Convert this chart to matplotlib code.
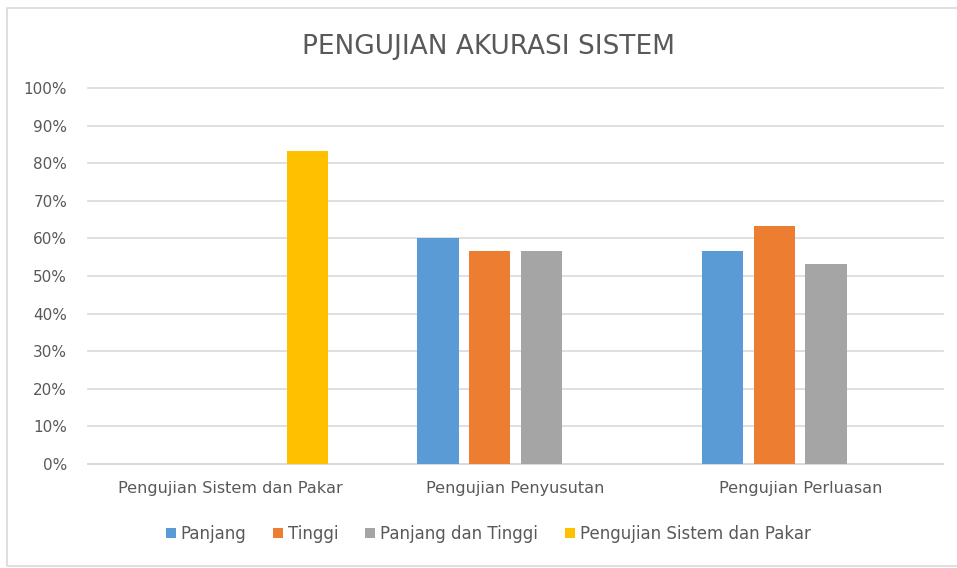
import numpy as np
import matplotlib
matplotlib.use("Agg")
import matplotlib.pyplot as plt
from matplotlib.patches import Rectangle
from matplotlib.ticker import PercentFormatter

plt.rcParams['font.family'] = ['Liberation Sans Narrow', 'DejaVu Sans']

# data
categories = ['Pengujian Sistem dan Pakar', 'Pengujian Penyusutan', 'Pengujian Perluasan']
series_names = ['Panjang', 'Tinggi', 'Panjang dan Tinggi', 'Pengujian Sistem dan Pakar']
panjang = [np.nan, 60.0, 56.7]
tinggi = [np.nan, 56.7, 63.3]
panjang_tinggi = [np.nan, 56.7, 53.3]
sistem_pakar = [83.3, np.nan, np.nan]
colors = ['#5B9BD5', '#ED7D31', '#A5A5A5', '#FFC000']

text_color = '#595959'
grid_color = '#D9D9D9'

fig = plt.figure(figsize=(9.57, 5.68), dpi=100)
ax = fig.add_axes([0.092, 0.183, 0.893, 0.662])

x = np.arange(len(categories))
step = 0.181
width = 0.144
all_series = [panjang, tinggi, panjang_tinggi, sistem_pakar]
for i, (vals, name, c) in enumerate(zip(all_series, series_names, colors)):
    ax.bar(x + (i - 1.5) * step, vals, width, color=c, label=name, zorder=3)

ax.set_xlim(-0.5, len(categories) - 0.5)
ax.set_ylim(0, 100)
ax.set_yticks(np.arange(0, 101, 10))
ax.yaxis.set_major_formatter(PercentFormatter(decimals=0))
ax.grid(axis='y', color=grid_color, linewidth=1.2, zorder=0)
for gl in ax.get_ygridlines():
    gl.set_clip_on(False)
for s in ['top', 'right', 'left']:
    ax.spines[s].set_visible(False)
ax.spines['bottom'].set_color(grid_color)
ax.spines['bottom'].set_linewidth(1.2)
ax.tick_params(axis='both', length=0, colors=text_color, labelsize=11)
ax.tick_params(axis='y', pad=15)
ax.tick_params(axis='x', pad=12, labelsize=11.6)
ax.set_xticks(x)
ax.set_xticklabels(categories)

fig.text(0.51, 0.917, 'PENGUJIAN AKURASI SISTEM', ha='center', va='center',
         fontsize=19, color=text_color)

leg = fig.legend(loc='center', bbox_to_anchor=(0.51, 0.06), ncol=4, frameon=False,
                 fontsize=12, handlelength=0.6, handleheight=0.6, handletextpad=0.3,
                 columnspacing=1.6)
for t in leg.get_texts():
    t.set_color(text_color)

# chart frame
fig.patches.append(Rectangle((7 / 957, 2 / 568), 1.2, 1 - 10 / 568, transform=fig.transFigure,
                             fill=False, edgecolor='#D9D9D9', linewidth=1.2))

fig.savefig('out.png', dpi=100)
